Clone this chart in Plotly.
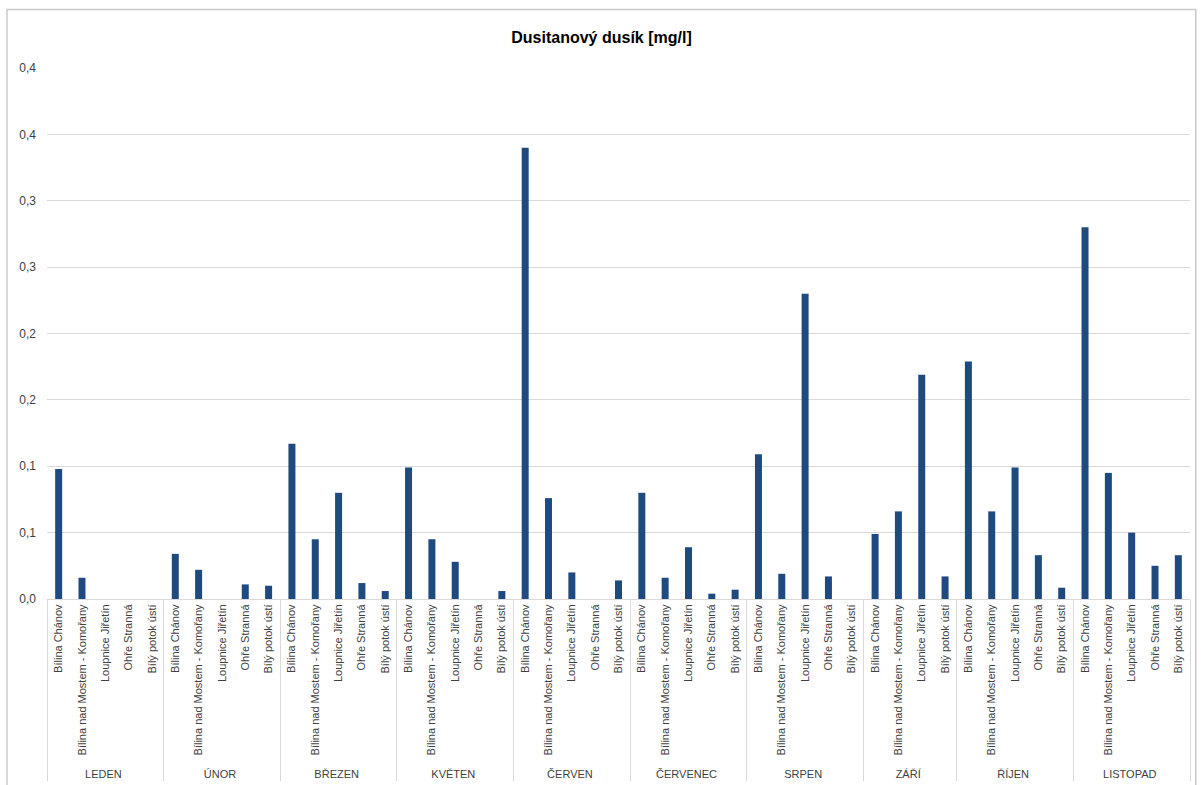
import plotly.graph_objects as go

months = ["LEDEN", "ÚNOR", "BŘEZEN", "KVĚTEN", "ČERVEN", "ČERVENEC", "SRPEN", "ZÁŘÍ", "ŘÍJEN", "LISTOPAD"]
stations5 = ["Bílina Chánov", "Bílina nad Mostem - Komořany", "Loupnice Jiřetín", "Ohře Stranná", "Bílý potok ústí"]
stations_zari = ["Bílina Chánov", "Bílina nad Mostem - Komořany", "Loupnice Jiřetín", "Bílý potok ústí"]

values = {
    "LEDEN":    [0.098, 0.016, 0.0, 0.0, 0.0],
    "ÚNOR":     [0.034, 0.022, 0.0, 0.011, 0.010],
    "BŘEZEN":   [0.117, 0.045, 0.080, 0.012, 0.006],
    "KVĚTEN":   [0.099, 0.045, 0.028, 0.0, 0.006],
    "ČERVEN":   [0.340, 0.076, 0.020, 0.0, 0.014],
    "ČERVENEC": [0.080, 0.016, 0.039, 0.004, 0.007],
    "SRPEN":    [0.109, 0.019, 0.230, 0.017, 0.0],
    "ZÁŘÍ":     [0.049, 0.066, 0.169, 0.017],
    "ŘÍJEN":    [0.179, 0.066, 0.099, 0.033, 0.0085],
    "LISTOPAD": [0.280, 0.095, 0.050, 0.025, 0.033],
}

y_tickvals = [0.0, 0.05, 0.10, 0.15, 0.20, 0.25, 0.30, 0.35, 0.40]
y_ticktext = ["0,0", "0,1", "0,1", "0,2", "0,2", "0,3", "0,3", "0,4", "0,4"]

outer, inner, ys = [], [], []
for m in months:
    st = stations_zari if m == "ZÁŘÍ" else stations5
    for s, v in zip(st, values[m]):
        outer.append(m)
        inner.append(s)
        ys.append(v)

fig = go.Figure(go.Bar(x=[outer, inner], y=ys, marker_color="#1F4A80", marker_line_width=0))

fig.update_layout(
    width=1203, height=785,
    margin=dict(l=47, r=13, t=68, b=186),
    paper_bgcolor="white", plot_bgcolor="white",
    bargap=0.7,
    showlegend=False,
    font=dict(family="Liberation Sans, Arial, sans-serif", color="#404040"),
    title=dict(text="<b>Dusitanový dusík [mg/l]</b>", x=0.5, xanchor="center", y=0.952, yanchor="middle",
               font=dict(size=16, color="#000000")),
)
fig.update_yaxes(range=[0, 0.4], tickvals=y_tickvals, ticktext=y_ticktext, showgrid=True,
                 gridcolor="#D9D9D9", gridwidth=1, zeroline=False, showline=False,
                 tickfont=dict(size=12, color="#404040"), ticks="", ticklabelstandoff=10,
                 automargin=False)
fig.update_xaxes(type="multicategory", tickangle=-90, tickfont=dict(size=11, color="#404040"),
                 showline=True, linecolor="#D9D9D9", linewidth=1, showdividers=True,
                 dividercolor="#D9D9D9", dividerwidth=1, ticks="", automargin=False)
fig.add_shape(type="rect", xref="paper", yref="paper", x0=-0.035, x1=1.005, y0=-0.36, y1=1.11,
              line=dict(color="#C8C8C8", width=1.5), fillcolor="rgba(0,0,0,0)", layer="below")
fig.write_html("out.html", config={"displayModeBar": False},
               post_script="document.body.style.margin='0';")
